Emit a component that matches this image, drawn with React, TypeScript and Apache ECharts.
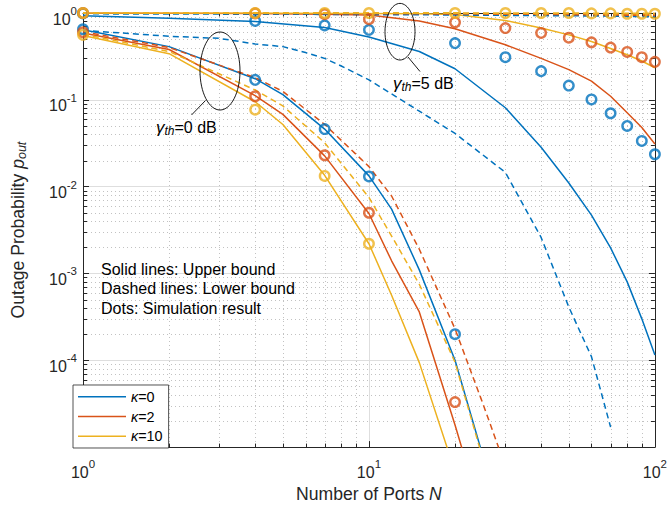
import React, { useEffect, useRef } from 'react';
import * as echarts from 'echarts';

const BLUE = '#0072BD';
const ORANGE = '#D95319';
const YELLOW = '#EDB120';
const INK = '#262626';
const FONT = '"Liberation Sans", Arial, Helvetica, sans-serif';

const X_MIN = 1;
const X_MAX = 100;
const Y_MIN = 1e-5;
const Y_MAX = 1;

const LEGEND_NAMES = ['κ=0', 'κ=2', 'κ=10'];

// minor tick positions (log axes)
const X_MINOR = [2, 3, 4, 5, 6, 7, 8, 9, 20, 30, 40, 50, 60, 70, 80, 90];
const Y_MINOR_MANTISSA = [2, 3, 4, 5, 6, 7, 8, 9];
const Y_MINOR_EXP = [-5, -4, -3, -2, -1];

// ---------- gamma_th = 0 dB ----------
const N_BOUND_0 = [1, 2, 4, 5, 7, 10, 12, 15, 20, 25, 30];
const UPPER_0_K0 = [0.64, 0.41, 0.175, 0.115, 0.046, 0.0133, 5.5e-3, 1.1e-3, 1.0e-4, 8e-6, 5e-7];
const UPPER_0_K2 = [0.59, 0.38, 0.112, 0.068, 0.0226, 0.0049, 1.4e-3, 3.6e-4, 1.8e-5, 1.5e-6, 1e-7];
const UPPER_0_K10 = [0.55, 0.34, 0.095, 0.052, 0.0135, 0.0022, 5.6e-4, 9.4e-5, 5.2e-6, 2e-7, 1e-8];
const LOWER_0_K2 = [0.61, 0.4, 0.18, 0.125, 0.052, 0.017, 7.8e-3, 1.9e-3, 2.3e-4, 3.2e-5, 6e-6];
const LOWER_0_K10 = [0.57, 0.36, 0.13, 0.085, 0.032, 7.5e-3, 2.7e-3, 7.5e-4, 9.5e-5, 7.4e-6, 6e-7];
const N_LOWER_0_K0 = [1, 2, 3, 4, 5, 6, 7, 8, 10, 15, 20, 30, 40, 50, 60, 70];
const LOWER_0_K0 = [0.63, 0.54, 0.51, 0.44, 0.41, 0.35, 0.3, 0.245, 0.17, 0.074, 0.041, 0.0146, 2.6e-3, 4.1e-4, 1.1e-4, 1.7e-5];
const N_SIM_0 = [1, 4, 7, 10, 20];
const SIM_0_K0 = [0.65, 0.17, 0.046, 0.0131, 2.0e-4];
const SIM_0_K2 = [0.6, 0.11, 0.023, 0.005, 3.3e-5];
const SIM_0_K10 = [0.56, 0.077, 0.0133, 0.0022];

// ---------- gamma_th = 5 dB ----------
const N_BOUND_5 = [1, 2, 4, 7, 10, 15, 20, 30, 40, 50, 60, 70, 80, 90, 100];
const UPPER_5_K0 = [0.93, 0.87, 0.8, 0.68, 0.53, 0.36, 0.228, 0.081, 0.0284, 0.011, 4.7e-3, 1.97e-3, 8e-4, 3e-4, 1.15e-4];
const UPPER_5_K2 = [1.0, 0.995, 0.99, 0.97, 0.95, 0.81, 0.66, 0.43, 0.3, 0.223, 0.164, 0.11, 0.071, 0.048, 0.031];
const UPPER_5_K10 = [1.0, 1.0, 0.998, 0.995, 0.99, 0.98, 0.96, 0.82, 0.67, 0.56, 0.47, 0.39, 0.33, 0.28, 0.234];
const LOWER_5_K0 = [0.985, 0.98, 0.975, 0.97, 0.965, 0.96, 0.955, 0.945, 0.94, 0.935, 0.93, 0.925, 0.92, 0.915, 0.91];
const LOWER_5_K2 = [1.0, 1.0, 0.995, 0.99, 0.99, 0.985, 0.98, 0.975, 0.97, 0.965, 0.96, 0.955, 0.95, 0.95, 0.945];
const LOWER_5_K10 = [1.0, 1.0, 1.0, 1.0, 1.0, 0.998, 0.997, 0.995, 0.993, 0.992, 0.99, 0.99, 0.988, 0.987, 0.985];
const N_SIM_5 = [1, 4, 7, 10, 20, 30, 40, 50, 60, 70, 80, 90, 100];
const SIM_5_K0 = [0.99, 0.81, 0.72, 0.64, 0.45, 0.31, 0.214, 0.146, 0.101, 0.07, 0.05, 0.0336, 0.0236];
const SIM_5_K2 = [1.0, 0.99, 0.97, 0.85, 0.78, 0.67, 0.59, 0.52, 0.46, 0.4, 0.356, 0.31, 0.274];
const SIM_5_K10 = [1.0, 1.0, 1.0, 1.0, 1.0, 1.0, 1.0, 1.0, 0.99, 0.99, 0.98, 0.98, 0.98];

const pairs = (xs: number[], ys: number[]) => ys.map((y, i) => [xs[i], y]);

const lineSeries = (name: string, xs: number[], ys: number[], color: string, dashed: boolean, width = 1.5) => ({
  name,
  type: 'line',
  data: pairs(xs, ys),
  symbol: 'none',
  showSymbol: false,
  clip: true,
  silent: true,
  z: 3,
  lineStyle: { color, width, type: dashed ? [6, 4] : 'solid' },
  itemStyle: { color },
});

const simSeries = (name: string, xs: number[], ys: number[], color: string) => ({
  name,
  type: 'scatter',
  data: pairs(xs, ys),
  symbol: 'circle',
  symbolSize: 9.5,
  silent: true,
  clip: true,
  z: 4,
  itemStyle: { color: 'rgba(255,255,255,0)', borderColor: color, borderWidth: 2.4 },
});

const tickRich = {
  b: { fontSize: 16, fontFamily: FONT, color: INK, lineHeight: 22, verticalAlign: 'bottom' },
  s: { fontSize: 11.5, fontFamily: FONT, color: INK, lineHeight: 12, verticalAlign: 'top' },
};

const powLabel = (hideBottom: boolean) => (v: number) => {
  const e = Math.round(Math.log10(v));
  if (hideBottom && e <= -5) return '';
  return `{b|10}{s|${e}}`;
};

const minorXSeries = {
  type: 'custom',
  coordinateSystem: 'cartesian2d',
  silent: true,
  z: 1,
  data: X_MINOR.map((v) => [v, Y_MAX]),
  renderItem: (params: any, api: any) => {
    const cs = params.coordSys;
    const p = api.coord([api.value(0), api.value(1)]);
    const x = Math.round(p[0]) + 0.5;
    const top = cs.y;
    const bot = cs.y + cs.height;
    return {
      type: 'group',
      children: [
        { type: 'line', shape: { x1: x, y1: top, x2: x, y2: bot }, style: { stroke: '#c2c2c2', lineWidth: 1, lineDash: [1, 3] } },
        { type: 'line', shape: { x1: x, y1: bot, x2: x, y2: bot - 3.5 }, style: { stroke: INK, lineWidth: 1 } },
        { type: 'line', shape: { x1: x, y1: top, x2: x, y2: top + 3.5 }, style: { stroke: INK, lineWidth: 1 } },
      ],
    };
  },
};

const yMinorValues: number[] = [];
Y_MINOR_EXP.forEach((e) => Y_MINOR_MANTISSA.forEach((m) => yMinorValues.push(m * Math.pow(10, e))));

const minorYSeries = {
  type: 'custom',
  coordinateSystem: 'cartesian2d',
  silent: true,
  z: 1,
  data: yMinorValues.map((v) => [X_MIN, v]),
  renderItem: (params: any, api: any) => {
    const cs = params.coordSys;
    const p = api.coord([api.value(0), api.value(1)]);
    const y = Math.round(p[1]) + 0.5;
    const left = cs.x;
    const right = cs.x + cs.width;
    return {
      type: 'group',
      children: [
        { type: 'line', shape: { x1: left, y1: y, x2: right, y2: y }, style: { stroke: '#c2c2c2', lineWidth: 1, lineDash: [1, 3] } },
        { type: 'line', shape: { x1: left, y1: y, x2: left + 4, y2: y }, style: { stroke: INK, lineWidth: 1 } },
        { type: 'line', shape: { x1: right, y1: y, x2: right - 4, y2: y }, style: { stroke: INK, lineWidth: 1 } },
      ],
    };
  },
};

const axisLine = { show: true, onZero: false, lineStyle: { color: INK, width: 1 } };
const axisTick = { show: true, inside: true, length: 6, lineStyle: { color: INK, width: 1 } };
const majorGrid = { show: true, lineStyle: { color: '#dedede', width: 1 } };

const gammaRich = {
  g: { fontSize: 17, fontFamily: FONT, fontStyle: 'italic', fill: '#000', lineHeight: 18, verticalAlign: 'top' },
  s: { fontSize: 12, fontFamily: FONT, fontStyle: 'italic', fill: '#000', lineHeight: 8, verticalAlign: 'bottom' },
  t: { fontSize: 16, fontFamily: FONT, fill: '#000', lineHeight: 18, verticalAlign: 'top' },
};

const option: any = {
  animation: false,
  backgroundColor: '#ffffff',
  grid: { left: 73, right: 10, top: 13, bottom: 60, containLabel: false },
  xAxis: [
    {
      type: 'log',
      logBase: 10,
      min: X_MIN,
      max: X_MAX,
      position: 'bottom',
      axisLine,
      axisTick,
      splitLine: majorGrid,
      axisLabel: { formatter: powLabel(false), rich: tickRich, margin: 11, color: INK },
      name: 'Number of Ports {i|N}',
      nameLocation: 'middle',
      nameGap: 35,
      nameTextStyle: {
        fontSize: 17.6,
        fontFamily: FONT,
        color: INK,
        rich: { i: { fontSize: 17.6, fontFamily: FONT, color: INK, fontStyle: 'italic' } },
      },
    },
    {
      type: 'log',
      logBase: 10,
      min: X_MIN,
      max: X_MAX,
      position: 'top',
      axisLine,
      axisTick,
      splitLine: { show: false },
      axisLabel: { show: false },
    },
  ],
  yAxis: [
    {
      type: 'log',
      logBase: 10,
      min: Y_MIN,
      max: Y_MAX,
      position: 'left',
      axisLine,
      axisTick,
      splitLine: majorGrid,
      axisLabel: { formatter: powLabel(true), rich: tickRich, margin: 6, color: INK, padding: [6, 0, 0, 0] },
      name: 'Outage Probability {i|p}{u|out}',
      nameLocation: 'middle',
      nameRotate: 90,
      nameGap: 55,
      nameTextStyle: {
        fontSize: 17.6,
        fontFamily: FONT,
        color: INK,
        lineHeight: 20,
        rich: {
          i: { fontSize: 17.6, fontFamily: FONT, color: INK, fontStyle: 'italic', lineHeight: 20 },
          u: { fontSize: 12.5, fontFamily: FONT, color: INK, fontStyle: 'italic', lineHeight: 10, verticalAlign: 'bottom' },
        },
      },
    },
    {
      type: 'log',
      logBase: 10,
      min: Y_MIN,
      max: Y_MAX,
      position: 'right',
      axisLine,
      axisTick,
      splitLine: { show: false },
      axisLabel: { show: false },
    },
  ],
  legend: {
    data: LEGEND_NAMES,
    orient: 'vertical',
    left: 73,
    top: 385,
    icon: 'rect',
    itemWidth: 48,
    itemHeight: 1.6,
    itemGap: 4.7,
    padding: [4.3, 6, 4.3, 5],
    backgroundColor: '#ffffff',
    borderColor: INK,
    borderWidth: 0.8,
    borderRadius: 0,
    selectedMode: false,
    formatter: (name: string) => `{k|κ}${name.slice(1)}`,
    textStyle: {
      fontSize: 14.4,
      fontFamily: FONT,
      color: '#000',
      lineHeight: 15,
      rich: { k: { fontSize: 14.4, fontFamily: FONT, color: '#000', fontStyle: 'italic', lineHeight: 15 } },
    },
  },
  series: [
    minorXSeries,
    minorYSeries,
    // legend-bearing upper bounds (gamma 0)
    lineSeries('κ=0', N_BOUND_0, UPPER_0_K0, BLUE, false),
    lineSeries('κ=2', N_BOUND_0, UPPER_0_K2, ORANGE, false),
    lineSeries('κ=10', N_BOUND_0, UPPER_0_K10, YELLOW, false),
    lineSeries('lb0_k0', N_LOWER_0_K0, LOWER_0_K0, BLUE, true),
    lineSeries('lb0_k2', N_BOUND_0, LOWER_0_K2, ORANGE, true),
    lineSeries('lb0_k10', N_BOUND_0, LOWER_0_K10, YELLOW, true),
    lineSeries('ub5_k0', N_BOUND_5, UPPER_5_K0, BLUE, false),
    lineSeries('ub5_k2', N_BOUND_5, UPPER_5_K2, ORANGE, false),
    lineSeries('ub5_k10', N_BOUND_5, UPPER_5_K10, YELLOW, false),
    lineSeries('lb5_k0', N_BOUND_5, LOWER_5_K0, BLUE, true, 2),
    lineSeries('lb5_k2', N_BOUND_5, LOWER_5_K2, ORANGE, true, 2),
    lineSeries('lb5_k10', N_BOUND_5, LOWER_5_K10, YELLOW, true, 2),
    simSeries('sim0_k0', N_SIM_0, SIM_0_K0, BLUE),
    simSeries('sim5_k0', N_SIM_5, SIM_5_K0, BLUE),
    simSeries('sim0_k2', N_SIM_0, SIM_0_K2, ORANGE),
    simSeries('sim5_k2', N_SIM_5, SIM_5_K2, ORANGE),
    simSeries('sim0_k10', N_SIM_0, SIM_0_K10, YELLOW),
    simSeries('sim5_k10', N_SIM_5, SIM_5_K10, YELLOW),
  ],
  graphic: [
    { type: 'ellipse', z: 20, shape: { cx: 220, cy: 71, rx: 20, ry: 39 }, style: { fill: 'none', stroke: '#000', lineWidth: 0.9 } },
    { type: 'line', z: 20, shape: { x1: 205.5, y1: 100.5, x2: 191.5, y2: 115 }, style: { stroke: '#000', lineWidth: 0.9 } },
    {
      type: 'text',
      z: 20,
      x: 156,
      y: 128,
      style: { text: '{g|γ}{s|th}{t|=0 dB}', rich: gammaRich, verticalAlign: 'middle', align: 'left', fill: '#000' },
    },
    { type: 'ellipse', z: 20, shape: { cx: 400, cy: 31.7, rx: 15, ry: 28.3 }, style: { fill: 'none', stroke: '#000', lineWidth: 0.9 } },
    { type: 'line', z: 20, shape: { x1: 408, y1: 57, x2: 420, y2: 71.5 }, style: { stroke: '#000', lineWidth: 0.9 } },
    {
      type: 'text',
      z: 20,
      x: 393,
      y: 84,
      style: { text: '{g|γ}{s|th}{t|=5 dB}', rich: gammaRich, verticalAlign: 'middle', align: 'left', fill: '#000' },
    },
    { type: 'text', z: 20, x: 101, y: 269, style: { text: 'Solid lines: Upper bound', fill: '#000', fontSize: 16, fontFamily: FONT, verticalAlign: 'middle', align: 'left' } },
    { type: 'text', z: 20, x: 101, y: 288.5, style: { text: 'Dashed lines: Lower bound', fill: '#000', fontSize: 16, fontFamily: FONT, verticalAlign: 'middle', align: 'left' } },
    { type: 'text', z: 20, x: 101, y: 308, style: { text: 'Dots: Simulation result', fill: '#000', fontSize: 16, fontFamily: FONT, verticalAlign: 'middle', align: 'left' } },
  ],
};

export default function App() {
  const ref = useRef<HTMLDivElement>(null);
  useEffect(() => {
    if (!ref.current) return;
    const chart = echarts.init(ref.current, null, { renderer: 'svg' });
    chart.setOption(option);
    return () => chart.dispose();
  }, []);
  return (
    <div
      ref={ref}
      style={{ position: 'fixed', left: 0, top: 0, width: 670, height: 508, background: '#ffffff' }}
    />
  );
}
